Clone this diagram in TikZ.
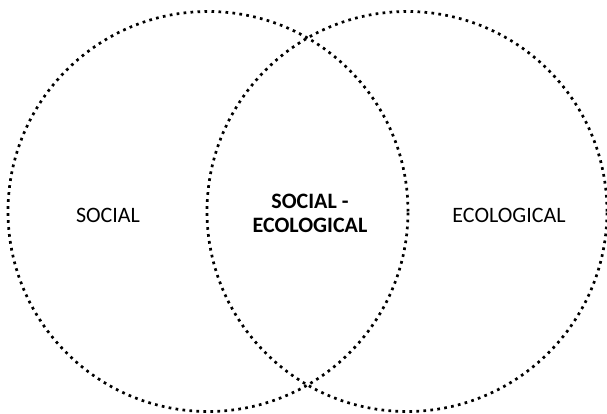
\documentclass[tikz,border=0pt]{standalone}
\usepackage{fontspec}
\setmainfont{Carlito}
\begin{document}
\begin{tikzpicture}[x=1pt,y=1pt]
	\tikzset{ring/.style={line width=2.7pt,dash pattern=on 2.7pt off 4.3pt},
		lbl/.style={font=\fontsize{22}{24}\selectfont,align=center,inner sep=0pt}}
	\useasboundingbox (0,0) rectangle (607,414);
	\draw[ring] (208,202.5) circle (200);
	\draw[ring] (407,202.5) circle (200);
	\node[lbl] (social) at (108,199) {SOCIAL};
	\node[lbl] (ecol) at (509,199) {ECOLOGICAL};
	\node[lbl,font=\fontsize{22}{24}\selectfont\bfseries] (both) at (310,201) {SOCIAL -\\ECOLOGICAL};
\end{tikzpicture}
\end{document}
